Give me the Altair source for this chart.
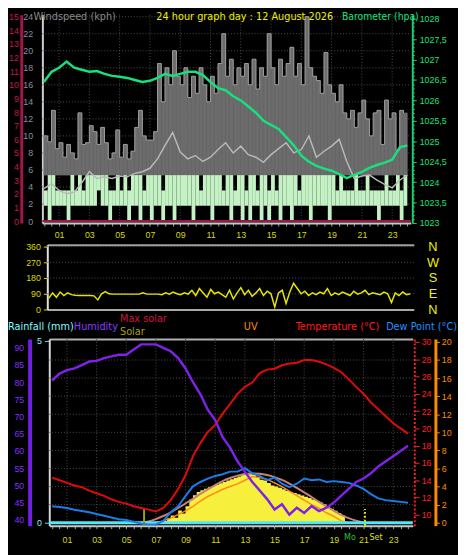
import altair as alt
import pandas as pd

# ---------------- data ----------------
# top panel: wind (kph) in 15-minute slots starting at 00:00
GUST = [10, 9.3, 13, 8.5, 9.2, 7.5, 9, 8, 7.3, 12.7, 9, 9.2, 11.2, 10.5, 9, 11,
        9.2, 7.3, 8, 10.7, 7.5, 9, 7.3, 8.2, 11, 13, 10, 9.5, 9.5, 10.5, 18.5, 14,
        18, 16, 20, 17, 16, 18, 14.5, 17, 15, 18, 16, 14, 17, 15, 18.5, 22,
        17, 19, 16, 18, 17, 18.5, 16, 19, 15.5, 18, 17, 22, 18, 16, 19, 17,
        18.5, 20.4, 17, 18.5, 16, 24, 18, 17, 16.5, 15, 19.8, 16, 15, 14, 16, 12.7,
        12, 13, 11, 12.7, 14.2, 12, 10, 12.7, 13, 9, 14.2, 12, 12.7, 8.3, 13, 12.7]
GUST_FLOOR = 5.4
WIND_LO = [1.8, 0, 1.8, 1.8, 1.8, 1.8, 0, 1.8, 1.8, 1.8, 1.8, 1.8, 1.8, 1.8, 3.6, 1.8,
           1.8, 0, 1.8, 1.8, 1.8, 1.8, 0, 1.8, 1.8, 0, 1.8, 1.8, 0, 1.8, 1.8, 0,
           1.8, 1.8, 0, 1.8, 1.8, 1.8, 1.8, 0, 1.8, 1.8, 1.8, 1.8, 0, 1.8, 1.8, 1.8,
           1.8, 0, 1.8, 1.8, 0, 1.8, 0, 1.8, 1.8, 0, 1.8, 0, 1.8, 1.8, 0, 1.8,
           1.8, 0, 1.8, 1.8, 1.8, 1.8, 0, 1.8, 1.8, 1.8, 1.8, 0, 1.8, 1.8, 1.8, 1.8,
           1.8, 1.8, 1.8, 1.8, 1.8, 1.8, 1.8, 1.8, 0, 1.8, 1.8, 1.8, 1.8, 1.8, 0, 1.8]
WIND_HI = [3.6, 5.4, 5.4, 3.6, 3.6, 3.6, 3.6, 5.4, 3.6, 5.4, 3.6, 5.4, 5.4, 5.4, 5.4, 5.4,
           5.4, 3.6, 3.6, 5.4, 3.6, 5.4, 3.6, 5.4, 5.4, 5.4, 3.6, 5.4, 5.4, 5.4, 5.4, 3.6,
           5.4, 5.4, 5.4, 5.4, 5.4, 5.4, 5.4, 5.4, 5.4, 3.6, 5.4, 5.4, 5.4, 5.4, 5.4, 3.6,
           5.4, 5.4, 3.6, 5.4, 5.4, 3.6, 5.4, 5.4, 3.6, 5.4, 5.4, 3.6, 5.4, 3.6, 5.4, 5.4,
           5.4, 5.4, 5.4, 3.6, 5.4, 5.4, 5.4, 5.4, 5.4, 5.4, 5.4, 5.4, 5.4, 3.6, 5.4, 3.6,
           3.6, 3.6, 5.4, 3.6, 3.6, 5.4, 3.6, 3.6, 3.6, 3.6, 5.4, 3.6, 3.6, 5.4, 3.6, 5.4]
# half-hourly from 00:00
WIND_AVG = [3.8, 4.4, 3.6, 3.2, 3.4, 4.5, 5.8, 5.0, 5.2, 5.0, 5.3, 5.2, 5.6, 5.8, 6.2, 7.3,
            8.9, 10.4, 8.1, 7.3, 7.7, 7.0, 7.5, 8.4, 9.2, 8.0, 8.8, 7.8, 7.5, 6.9, 7.8, 8.5,
            9.2, 8.0, 8.4, 10.0, 7.5, 8.2, 8.8, 9.6, 7.0, 5.0, 5.3, 5.4, 4.8, 4.3, 3.9, 4.8, 5.4]
BARO = [1026.45, 1026.7, 1026.8, 1026.95, 1026.8, 1026.75, 1026.7, 1026.72, 1026.65, 1026.6,
        1026.58, 1026.55, 1026.5, 1026.45, 1026.48, 1026.55, 1026.65, 1026.6, 1026.65, 1026.7,
        1026.7, 1026.62, 1026.45, 1026.3, 1026.25, 1026.1, 1026.0, 1025.85, 1025.7, 1025.5,
        1025.4, 1025.3, 1025.1, 1024.9, 1024.65, 1024.5, 1024.4, 1024.33, 1024.28, 1024.2,
        1024.1, 1024.18, 1024.25, 1024.35, 1024.42, 1024.48, 1024.55, 1024.85, 1024.9]
RED_ZERO = [0]

# middle panel: wind direction (deg), 15-minute steps from 00:00
DIRECTION = [65, 95, 70, 100, 80, 95, 85, 82, 80, 80, 80, 80, 78, 55, 90, 102,
             90, 88, 88, 88, 88, 88, 88, 88, 88, 95, 88, 88, 88, 88, 85, 95,
             88, 100, 90, 85, 95, 88, 110, 80, 120, 95, 70, 115, 90, 100, 85, 70,
             110, 60, 95, 125, 85, 110, 75, 95, 120, 80, 105, 90, 15, 95, 110, 35,
             100, 150, 120, 90, 105, 80, 95, 85, 100, 90, 120, 80, 95, 85, 100, 90,
             80, 105, 88, 95, 110, 85, 95, 90, 85, 100, 90, 40, 95, 80, 100, 85, 90]

# bottom panel, half-hourly from 00:00
HUMIDITY = [80.5, 82.5, 83.5, 84, 85, 86, 86.2, 87, 87.5, 88, 88, 89.5, 91, 91, 91, 90, 89,
            87, 84, 80, 76.5, 72, 69, 64, 61, 57, 54, 51, 48.5, 46, 43, 44.5, 41.5, 43.5,
            42, 44, 42.5, 43.5, 45, 47, 49, 51, 52, 53.5, 55.5, 57, 58.5, 60, 61.5]
TEMPERATURE = [14.3, 14.0, 13.7, 13.4, 13.2, 12.8, 12.5, 12.2, 11.8, 11.5, 11.3, 11.0, 10.8,
               10.6, 10.4, 10.8, 11.7, 13.0, 14.6, 16.8, 18.3, 19.6, 20.4, 21.7, 22.8, 24.0,
               24.8, 25.3, 26.4, 26.8, 26.9, 27.3, 27.5, 27.6, 27.9, 27.9, 27.7, 27.4, 27.0,
               26.5, 25.7, 24.8, 24.0, 23.0, 22.2, 21.4, 20.6, 20.0, 19.4]
DEW_POINT = [11.0, 10.9, 10.8, 10.6, 10.45, 10.3, 10.1, 9.9, 9.7, 9.5, 9.4, 9.2, 9.0, 8.9,
             8.9, 9.3, 10.3, 11.0, 12.2, 13.3, 13.8, 14.2, 14.5, 14.7, 15.0, 15.0, 15.4, 14.8,
             14.5, 14.0, 14.3, 13.6, 13.2, 13.6, 14.2, 14.0, 14.1, 13.8, 13.9, 13.8, 13.7,
             13.4, 13.0, 12.4, 11.9, 11.7, 11.6, 11.5, 11.4]
MAX_SOLAR_START = 6.0   # half-hourly
MAX_SOLAR = [0, 20, 60, 110, 170, 240, 315, 390, 470, 545, 615, 680, 730, 770, 795, 805,
             800, 780, 745, 700, 640, 570, 495, 420, 340, 265, 195, 130, 75, 35, 5]
SOLAR_START = 7.0       # quarter-hourly
SOLAR = [0, 5, 30, 70, 120, 80, 200, 150, 270, 380, 450, 500, 530, 555, 580, 600, 620,
         645, 665, 690, 710, 735, 755, 780, 800, 805, 790, 740, 700, 690, 650, 610, 590,
         570, 545, 520, 500, 485, 465, 445, 425, 405, 380, 355, 330, 300, 265, 230, 195,
         160, 120, 0]
UV_START = 7.0          # half-hourly
UV = [0, 0.2, 0.5, 0.9, 1.3, 1.8, 2.4, 2.9, 3.3, 3.7, 4.0, 4.3, 4.7, 5.1, 5.0, 4.8, 4.4,
      4.0, 3.5, 3.0, 2.5, 2.0, 1.6, 1.1, 0.7, 0.2, 0]
RAIN = [0]
SUN_EVENTS = [6.2, 21.1]

# axis tick values
ODD_HOURS = list(range(1, 24, 2))
HALF_HOURS = [i * 0.5 for i in range(49)]
WIND_TICKS = list(range(0, 25, 2))
RED_TICKS = list(range(0, 16))
BARO_TICKS = [1023 + 0.5 * i for i in range(11)]
BARO_MINOR = [1023 + 0.1 * i for i in range(51)]
DIR_TICKS = [0, 90, 180, 270, 360]
HUM_TICKS = list(range(40, 95, 5))
TEMP_TICKS = list(range(10, 31, 2))
UV_TICKS = list(range(0, 21, 2))

# ---------------- helpers ----------------
W, H = 458, 547
FONT = "'Liberation Sans', Arial, sans-serif"
TFONT = "'DejaVu Sans Condensed', 'Liberation Sans Narrow', 'Liberation Sans', Arial, sans-serif"
GRID = "#4c4c4c"
YEL = "#d8d80c"


def series(values, t0, step):
    return pd.DataFrame({"t": [t0 + i * step for i in range(len(values))], "v": values})


def sc(domain, rng):
    return alt.Scale(domain=domain, range=rng, nice=False, zero=False)


def xs_top():
    return sc([-0.103, 24.233], [35, 410])


def xs_mid():
    return sc([-0.103, 24.233], [40, 413])


def xs_bot():
    return sc([-0.193, 24.325], [42, 412])


def ys_wind():
    return sc([-0.23, 24.23], [214, 2])


def ys_red():
    return sc([-0.144, 15.144], [214, 2])


def ys_baro():
    return sc([1023, 1028.096], [214, 2])


def ys_dir():
    return sc([0, 371], [302, 236])


def ys_hum():
    return sc([38.286, 92.571], [522, 332])


def ys_temp():
    return sc([8.75, 30.341], [522, 332])


def ys_uv():
    return sc([-0.326, 20.326], [522, 332])


def ys_rain():
    return sc([-0.081, 5.054], [522, 332])


def ys_solar():
    return sc([-48, 3001.5], [522, 332])


def ax(**kw):
    base = dict(grid=False, title=None, labelFont=FONT, labelFontSize=9,
                labelOverlap=False, labelFlush=False)
    base.update(kw)
    return alt.Axis(**base)


HOUR_LABEL = "(datum.value % 2 == 1) ? ((datum.value < 10 ? '0' : '') + datum.value) : ''"

layers = []

# ---------------- top panel ----------------
layers.append(alt.Chart(pd.DataFrame({"h": ODD_HOURS})).mark_rule(
    color=GRID, strokeDash=[1, 2], strokeWidth=1).encode(
    x=alt.X("h:Q", scale=xs_top(), axis=None), y=alt.value(2), y2=alt.value(214)))
layers.append(alt.Chart(pd.DataFrame({"v": WIND_TICKS[1:]})).mark_rule(
    color=GRID, strokeDash=[1, 2], strokeWidth=1).encode(
    y=alt.Y("v:Q", scale=ys_wind(), axis=None), x=alt.value(35), x2=alt.value(410)))

slots = pd.DataFrame({
    "t0": [i * 0.25 for i in range(len(GUST))],
    "t1": [(i + 1) * 0.25 for i in range(len(GUST))],
    "gust": GUST, "floor": [GUST_FLOOR] * len(GUST),
    "lo": WIND_LO, "hi": WIND_HI})

layers.append(alt.Chart(slots).mark_rect(color="#6c6c6c", stroke="#6c6c6c", strokeWidth=0.6).encode(
    x=alt.X("t0:Q", scale=xs_top(), axis=ax(
        orient="bottom", offset=214 - H, values=HALF_HOURS, labelExpr=HOUR_LABEL,
        tickSize=3, tickColor="#a8a8a8", domainColor="#c8c8c8", domainWidth=2,
        labelColor=YEL, labelPadding=5, labelBound=False)),
    x2="t1:Q",
    y=alt.Y("floor:Q", scale=ys_wind(), axis=ax(
        orient="left", offset=-35, values=WIND_TICKS, tickSize=0,
        domainColor="#d0d0d0", domainWidth=2, labelColor="#8e8e9c", labelPadding=10)),
    y2="gust:Q"))
layers.append(alt.Chart(slots).mark_line(
    color="#9c9c9c", strokeWidth=1, interpolate="step-after").encode(
    x=alt.X("t0:Q", scale=xs_top(), axis=None),
    y=alt.Y("gust:Q", scale=ys_wind(), axis=None)))
layers.append(alt.Chart(slots).mark_rect(color="#c4f2c4").encode(
    x=alt.X("t0:Q", scale=xs_top(), axis=None), x2="t1:Q",
    y=alt.Y("lo:Q", scale=ys_wind(), axis=None), y2="hi:Q"))
layers.append(alt.Chart(series(WIND_AVG, 0, 0.5)).mark_line(
    color="#b8b8b8", strokeWidth=1.5).encode(
    x=alt.X("t:Q", scale=xs_top(), axis=None),
    y=alt.Y("v:Q", scale=ys_wind(), axis=None)))
layers.append(alt.Chart(pd.DataFrame({"v": RED_ZERO})).mark_rule(
    color="#9c1848", strokeWidth=2).encode(
    y=alt.Y("v:Q", scale=ys_red(), axis=ax(
        orient="left", offset=-13.5, values=RED_TICKS, tickSize=0,
        domainColor="#a0184a", domainWidth=3, labelColor="#c8164a", labelPadding=3)),
    x=alt.value(35), x2=alt.value(410)))
baro = series(BARO, 0, 0.5)
layers.append(alt.Chart(baro).mark_line(color="#18e07c", strokeWidth=2.5).encode(
    x=alt.X("t:Q", scale=xs_top(), axis=None),
    y=alt.Y("v:Q", scale=ys_baro(), axis=ax(
        orient="right", offset=-46.5, values=BARO_TICKS, tickSize=4, tickColor="#18d070",
        domainColor="#18d070", domainWidth=2, labelColor="#18e07c", labelPadding=3,
        labelExpr="replace(toString(datum.value), '.', ',')"))))
layers.append(alt.Chart(baro).mark_line(opacity=0).encode(
    x=alt.X("t:Q", scale=xs_top(), axis=None),
    y=alt.Y("v:Q", scale=ys_baro(), axis=ax(
        orient="right", offset=-46.5, values=BARO_MINOR, tickSize=2, tickColor="#18d070",
        domain=False, labels=False))))

# ---------------- middle panel ----------------
layers.append(alt.Chart(pd.DataFrame({"v": DIR_TICKS[1:]})).mark_rule(
    color=GRID, strokeDash=[1, 2], strokeWidth=1).encode(
    y=alt.Y("v:Q", scale=ys_dir(), axis=None), x=alt.value(40), x2=alt.value(413)))
direction = series(DIRECTION, 0, 0.25)
layers.append(alt.Chart(direction).mark_line(color="#e6e600", strokeWidth=1.5).encode(
    x=alt.X("t:Q", scale=xs_mid(), axis=ax(
        orient="bottom", offset=302 - H, labels=False, ticks=False,
        domainColor="#a8a8a8", domainWidth=2)),
    y=alt.Y("v:Q", scale=ys_dir(), axis=ax(
        orient="left", offset=-40, values=DIR_TICKS, tickSize=4, tickColor="#d8d800",
        domainColor="#e0e0e0", domainWidth=2, labelColor="#d8d800", labelPadding=3))))
layers.append(alt.Chart(direction).mark_line(opacity=0).encode(
    x=alt.X("t:Q", scale=xs_mid(), axis=ax(
        orient="top", offset=-236, labels=False, ticks=False,
        domainColor="#a0a0a0", domainWidth=2)),
    y=alt.Y("v:Q", scale=ys_dir(), axis=ax(
        orient="right", offset=-34, values=DIR_TICKS, ticks=False, domain=False,
        labelAlign="center", labelPadding=8, labelFontSize=13, labelColor="#f0f000",
        labelExpr="datum.value == 90 ? 'E' : datum.value == 180 ? 'S' : datum.value == 270 ? 'W' : 'N'"))))

# ---------------- bottom panel ----------------
layers.append(alt.Chart(pd.DataFrame({"h": ODD_HOURS})).mark_rule(
    color=GRID, strokeDash=[1, 2], strokeWidth=1).encode(
    x=alt.X("h:Q", scale=xs_bot(), axis=None), y=alt.value(332), y2=alt.value(522)))
layers.append(alt.Chart(pd.DataFrame({"v": UV_TICKS[1:-1]})).mark_rule(
    color=GRID, strokeDash=[1, 2], strokeWidth=1).encode(
    y=alt.Y("v:Q", scale=ys_uv(), axis=None), x=alt.value(42), x2=alt.value(412)))
solar = series(SOLAR, SOLAR_START, 0.25)
solar["base"] = 0
layers.append(alt.Chart(solar).mark_area(color="#f6ef3c", interpolate="step-after").encode(
    x=alt.X("t:Q", scale=xs_bot(), axis=None),
    y=alt.Y("v:Q", scale=ys_solar(), axis=None), y2="base:Q"))
layers.append(alt.Chart(series(MAX_SOLAR, MAX_SOLAR_START, 0.5)).mark_line(
    color="#c8807a", strokeWidth=2, interpolate="monotone").encode(
    x=alt.X("t:Q", scale=xs_bot(), axis=None),
    y=alt.Y("v:Q", scale=ys_solar(), axis=None)))
layers.append(alt.Chart(series(UV, UV_START, 0.5)).mark_line(
    color="#ff8a1a", strokeWidth=1.5).encode(
    x=alt.X("t:Q", scale=xs_bot(), axis=None),
    y=alt.Y("v:Q", scale=ys_uv(), axis=ax(
        orient="right", offset=-23, values=UV_TICKS, tickSize=4, tickColor="#ff8c00",
        domainColor="#ff8c00", domainWidth=3, labelColor="#ff8c00", labelPadding=2))))
layers.append(alt.Chart(pd.DataFrame({"v": RAIN})).mark_rule(
    color="#50e8f8", strokeWidth=3).encode(
    y=alt.Y("v:Q", scale=ys_rain(), axis=ax(
        orient="left", offset=-42, values=[0, 5], tickSize=5, tickColor="#50e0f0",
        domainColor="#d8d8d8", domainWidth=2, labelColor="#80f0ff", labelPadding=3)),
    x=alt.value(42), x2=alt.value(412)))
layers.append(alt.Chart(pd.DataFrame({"h": SUN_EVENTS, "kind": ["rise", "set"]})).mark_rule(
    strokeWidth=2).encode(
    x=alt.X("h:Q", scale=xs_bot(), axis=None), y=alt.value(522), y2=alt.value(505),
    color=alt.Color("kind:N", scale=alt.Scale(domain=["rise", "set"],
                                              range=["#a0a000", "#e8e800"]), legend=None),
    strokeDash=alt.StrokeDash("kind:N", scale=alt.Scale(domain=["rise", "set"],
                                                         range=[[1, 0], [2, 2]]), legend=None)))
layers.append(alt.Chart(series(DEW_POINT, 0, 0.5)).mark_line(
    color="#1a7de8", strokeWidth=2).encode(
    x=alt.X("t:Q", scale=xs_bot(), axis=ax(
        orient="top", offset=-332, labels=False, ticks=False,
        domainColor="#b0b0b0", domainWidth=2)),
    y=alt.Y("v:Q", scale=ys_temp(), axis=None)))
layers.append(alt.Chart(series(TEMPERATURE, 0, 0.5)).mark_line(
    color="#e00a0a", strokeWidth=2).encode(
    x=alt.X("t:Q", scale=xs_bot(), axis=ax(
        orient="bottom", offset=522 - H, values=HALF_HOURS, labelExpr=HOUR_LABEL,
        tickSize=3, tickColor="#a8a8a8", domainColor="#c8c8c8", domainWidth=2,
        labelColor=YEL, labelPadding=7, labelBound=False)),
    y=alt.Y("v:Q", scale=ys_temp(), axis=ax(
        orient="right", offset=-44.5, values=TEMP_TICKS, tickSize=5, tickColor="#ff2020",
        domainColor="#ff2020", domainDash=[2, 2], domainWidth=2, labelColor="#ff2020",
        labelPadding=2))))
layers.append(alt.Chart(series(HUMIDITY, 0, 0.5)).mark_line(
    color="#7f22e8", strokeWidth=2.5).encode(
    x=alt.X("t:Q", scale=xs_bot(), axis=None),
    y=alt.Y("v:Q", scale=ys_hum(), axis=ax(
        orient="left", offset=-22, values=HUM_TICKS, tickSize=0,
        domainColor="#7020e0", domainWidth=4, labelColor="#8030ff", labelPadding=6))))

# ---------------- texts ----------------
TEXTS = [
    ("Windspeed (kph)", 26, 7, "#8a8a8a", "left", 11),
    ("24 hour graph day : 12 August 2026", 241, 7, "#f0f000", "center", 11),
    ("Barometer (hpa)", 418, 7, "#18e07c", "right", 10.5),
    ("Rainfall (mm)", 0, 323, "#80ffff", "left", 11),
    ("Humidity", 67, 323, "#8a3cff", "left", 11),
    ("Max solar", 114, 315, "#d0143c", "left", 11),
    ("Solar", 114, 328, "#a8a000", "left", 11),
    ("UV", 240, 323, "#ff8c00", "left", 11),
    ("Temperature (°C)", 378, 323, "#ff1a1a", "right", 11),
    ("Dew Point (°C)", 457, 323, "#2090ff", "right", 11),
    ("Mo", 342, 537, "#30c030", "left", 9),
    ("Set", 368, 537, "#e0e000", "left", 9),
]
for txt, x, y, col, al, fs in TEXTS:
    layers.append(alt.Chart(alt.Data(values=[{"k": 0}])).mark_text(
        text=txt, align=al, baseline="alphabetic", font=TFONT, fontSize=fs, color=col).encode(
        x=alt.value(x), y=alt.value(y)))

chart = alt.layer(*layers).resolve_scale(
    x="independent", y="independent", color="independent", strokeDash="independent"
).properties(
    width=W, height=H, background="#000000", padding=0,
    autosize=alt.AutoSizeParams(type="none")
).configure_view(stroke=None).configure_axis(grid=False)

chart.save("out.html", embed_options={"renderer": "svg", "actions": False})
